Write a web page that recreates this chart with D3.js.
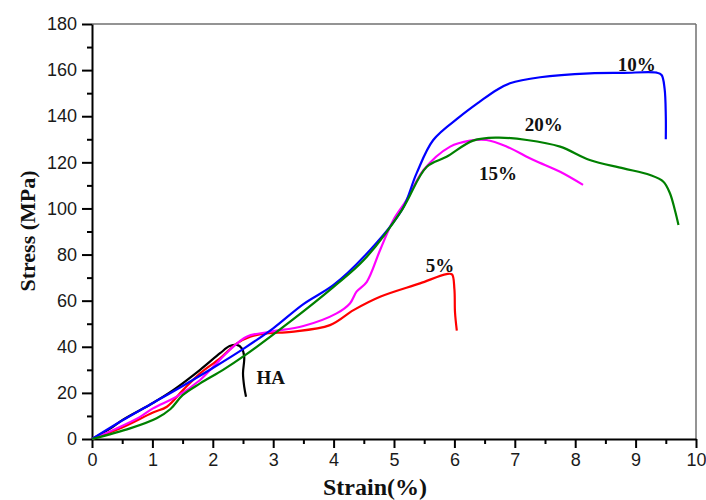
<!DOCTYPE html>
<html>
<head>
<meta charset="utf-8">
<script src="https://cdn.jsdelivr.net/npm/d3@7"></script>
<style>
  body { margin: 0; background: #fff; }
  .tick text { font-family: "Liberation Sans", Arial, sans-serif; font-size: 18px; fill: #1a1a1a; }
</style>
</head>
<body>
<div id="chart"></div>
<script>
// Stress-strain curves
const strainHA = [0, 0.3, 0.52, 1.0, 1.35, 1.79, 2.12, 2.28, 2.4, 2.48, 2.52, 2.5, 2.52, 2.55];
const stressHA = [0, 4.5, 8.5, 15.5, 21.3, 30, 37.2, 40.3, 40.8, 39.3, 35.7, 28.5, 22.7, 18.3];

const strain5 = [0, 0.5, 1.01, 1.24, 1.51, 1.79, 2.12, 2.4, 2.62, 2.89, 3.3, 3.94, 4.33, 4.77, 5.43, 5.87, 5.96, 6.0, 6.01, 6.04];
const stress5 = [0, 5, 11.5, 14, 21.3, 28.5, 35, 41.5, 44.4, 45.8, 46.5, 49.4, 55.9, 61.7, 67.5, 71.5, 71.4, 65, 55, 47];

const strain15 = [0, 0.4, 0.79, 1.01, 1.4, 1.79, 2.01, 2.28, 2.56, 2.95, 3.5, 4.05, 4.27, 4.38, 4.55, 4.77, 4.99, 5.21, 5.49, 5.93, 6.26, 6.53, 6.87, 7.31, 7.75, 8.13];
const stress15 = [0, 4.5, 9.5, 13.3, 18.4, 25.6, 31.4, 38.6, 44.4, 46.5, 49, 54.5, 58.8, 63.9, 68.2, 82, 95, 103.7, 116.7, 126.8, 129.4, 129.7, 126.8, 121, 115.9, 110.2];

const strain10 = [0, 0.5, 1, 1.5, 2, 2.5, 3, 3.5, 4, 4.5, 5.13, 5.37, 5.65, 6.09, 6.42, 6.7, 6.92, 7.42, 8.24, 8.8, 9.35, 9.43, 9.48, 9.5, 9.5];
const stress10 = [0, 8, 15.5, 23, 30.8, 39, 48, 58.5, 66.8, 79, 99.3, 115, 129.7, 139.8, 146.3, 151.4, 154.3, 156.9, 158.6, 158.8, 158.9, 157.9, 152, 140, 130];

const strain20 = [0, 0.63, 1.07, 1.3, 1.5, 1.79, 2.17, 2.5, 3.28, 4, 4.5, 5.13, 5.54, 5.87, 6.31, 6.7, 7.2, 7.75, 8.24, 8.8, 9.24, 9.46, 9.57, 9.65, 9.71];
const stress20 = [0, 4.6, 9, 13, 19, 24.1, 30, 35.7, 50.9, 66, 77.6, 99.3, 118, 122.4, 129.4, 130.7, 129.7, 126.8, 121, 117.4, 114.5, 111.6, 106.5, 99.3, 92.8];

const seriesNames = ["HA", "5%", "15%", "10%", "20%"];
const seriesColors = ["#000000", "#ff0000", "#ff00ff", "#0000ff", "#008000"];
// label anchor in data units (strain, stress)
const labelStrain = [2.96, 5.76, 6.72, 9.02, 7.48];
const labelStress = [23.9, 72.4, 112.3, 159.7, 133.6];

const xTicks = [0, 1, 2, 3, 4, 5, 6, 7, 8, 9, 10];
const yTicks = [0, 20, 40, 60, 80, 100, 120, 140, 160, 180];

const width = 706, height = 500;
const margin = { top: 24, right: 10, bottom: 61, left: 92 };
const innerW = width - margin.left - margin.right;
const innerH = height - margin.top - margin.bottom;

const series = [
  [strainHA, stressHA],
  [strain5, stress5],
  [strain15, stress15],
  [strain10, stress10],
  [strain20, stress20],
].map(([xs, ys], i) => ({
  name: seriesNames[i],
  color: seriesColors[i],
  points: xs.map((x, j) => [x, ys[j]]),
  lx: labelStrain[i],
  ly: labelStress[i],
}));

const svg = d3.select("#chart")
  .append("svg")
  .attr("width", width)
  .attr("height", height);

const root = svg.append("g")
  .attr("transform", `translate(${margin.left}, ${margin.top})`);

const xScale = d3.scaleLinear().domain([0, 10]).range([0, innerW]);
const yScale = d3.scaleLinear().domain([0, 180]).range([innerH, 0]);

// Frame: top and right in gray
root.append("line")
  .attr("x1", 0).attr("x2", innerW).attr("y1", 0).attr("y2", 0)
  .attr("stroke", "#707070").attr("stroke-width", 1.5);
root.append("line")
  .attr("x1", innerW).attr("x2", innerW).attr("y1", 0).attr("y2", innerH)
  .attr("stroke", "#707070").attr("stroke-width", 1.5);

// Minor ticks
root.append("g")
  .attr("transform", `translate(0, ${innerH})`)
  .call(d3.axisBottom(xScale).tickValues(d3.range(0.5, 10, 1)).tickSize(5).tickFormat(""))
  .call((g) => g.select(".domain").remove())
  .call((g) => g.selectAll("line").attr("stroke-width", 2));
root.append("g")
  .call(d3.axisLeft(yScale).tickValues(d3.range(10, 180, 20)).tickSize(5).tickFormat(""))
  .call((g) => g.select(".domain").remove())
  .call((g) => g.selectAll("line").attr("stroke-width", 2));

// Major axes
root.append("g")
  .attr("transform", `translate(0, ${innerH})`)
  .call(d3.axisBottom(xScale).tickValues(xTicks).tickSize(9).tickSizeOuter(0).tickPadding(5))
  .call((g) => g.select(".domain").attr("stroke-width", 2))
  .call((g) => g.selectAll("line").attr("stroke-width", 2));
root.append("g")
  .call(d3.axisLeft(yScale).tickValues(yTicks).tickSize(10).tickSizeOuter(0).tickPadding(5))
  .call((g) => g.select(".domain").attr("stroke-width", 2))
  .call((g) => g.selectAll("line").attr("stroke-width", 2));

// Curves
const line = d3.line()
  .x((d) => xScale(d[0]))
  .y((d) => yScale(d[1]))
  .curve(d3.curveCatmullRom.alpha(0.5));

root.append("g")
  .selectAll("path")
  .data(series)
  .enter()
  .append("path")
  .attr("d", (d) => line(d.points))
  .attr("fill", "none")
  .attr("stroke", (d) => d.color)
  .attr("stroke-width", 2.2)
  .attr("stroke-linejoin", "round");

// Curve labels
root.append("g")
  .selectAll("text")
  .data(series)
  .enter()
  .append("text")
  .attr("x", (d) => xScale(d.lx))
  .attr("y", (d) => yScale(d.ly))
  .attr("text-anchor", "middle")
  .attr("font-family", "'Liberation Serif', 'Times New Roman', serif")
  .attr("font-weight", "bold")
  .attr("font-size", 19)
  .attr("fill", "#111")
  .text((d) => d.name);

// Axis titles
svg.append("text")
  .attr("x", 375)
  .attr("y", 495)
  .attr("text-anchor", "middle")
  .attr("font-family", "'Liberation Serif', 'Times New Roman', serif")
  .attr("font-weight", "bold")
  .attr("font-size", 24)
  .attr("fill", "#111")
  .text("Strain(%)");

svg.append("text")
  .attr("transform", "translate(35, 231) rotate(-90)")
  .attr("text-anchor", "middle")
  .attr("font-family", "'Liberation Serif', 'Times New Roman', serif")
  .attr("font-weight", "bold")
  .attr("font-size", 22)
  .attr("fill", "#111")
  .text("Stress (MPa)");
</script>
</body>
</html>
